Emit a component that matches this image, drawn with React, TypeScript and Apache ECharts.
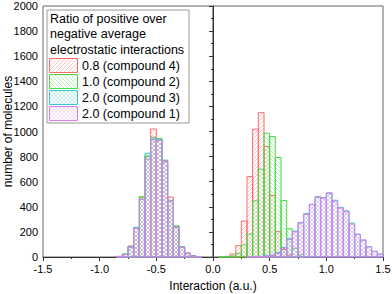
import React, { useEffect, useRef } from "react";
import * as echarts from "echarts";

const binWidth = 0.05;
const binStarts: number[] = [
  -0.9, -0.85, -0.8, -0.75, -0.7, -0.65, -0.6, -0.55, -0.5, -0.45, -0.4, -0.35, -0.3, -0.25, -0.2, -0.15,
  -0.1, -0.05, 0.0, 0.05, 0.1, 0.15, 0.2, 0.25, 0.3, 0.35, 0.4, 0.45, 0.5, 0.55, 0.6, 0.65,
  0.7, 0.75, 0.8, 0.85, 0.9, 0.95, 1.0, 1.05, 1.1, 1.15, 1.2, 1.25, 1.3, 1.35, 1.4, 1.45,
];
// compound 4 (ratio 0.8)
const countsC4: number[] = [
  0, 5, 20, 88, 230, 480, 800, 1020, 930, 765, 478, 245, 80, 32, 8, 2,
  0, 0, 0, 2, 5, 24, 90, 287, 641, 1019, 1150, 880, 490, 202, 60, 15,
  3, 0, 0, 0, 0, 0, 0, 0, 0, 0, 0, 0, 0, 0, 0, 0,
];
// compound 2 (ratio 1.0)
const countsC2: number[] = [
  0, 4, 25, 84, 232, 478, 805, 955, 945, 758, 445, 248, 82, 28, 8, 2,
  0, 0, 0, 1, 3, 8, 30, 96, 183, 447, 700, 987, 960, 793, 450, 225,
  70, 18, 4, 0, 0, 0, 0, 0, 0, 0, 0, 0, 0, 0, 0, 0,
];
// compound 3 (ratio 2.0)
const countsC3: number[] = [
  0, 4, 22, 80, 236, 462, 827, 935, 935, 772, 452, 238, 80, 30, 11, 3,
  0, 0, 0, 0, 0, 0, 0, 0, 2, 3, 6, 10, 16, 36, 76, 145,
  206, 276, 346, 418, 476, 474, 505, 452, 396, 368, 270, 182, 134, 82, 46, 24,
];
// compound 1 (ratio 2.0)
const countsC1: number[] = [
  0, 5, 20, 78, 228, 458, 780, 948, 928, 768, 446, 236, 76, 28, 9, 2,
  0, 0, 0, 0, 0, 0, 0, 0, 1, 2, 4, 7, 12, 30, 70, 140,
  200, 270, 340, 420, 482, 470, 512, 445, 390, 360, 262, 180, 136, 80, 44, 22,
];

const seriesNames = ["0.8 (compound 4)", "1.0 (compound 2)", "2.0 (compound 3)", "2.0 (compound 1)"];
const seriesCounts = [countsC4, countsC2, countsC3, countsC1];
const seriesColors = ["#ff6a6a", "#45dc45", "#35c8c8", "#e07cee"];
const hatchKinds = ["fwd", "back", "cross", "cross"];

const legendTitle = ["Ratio of positive over", "negative average", "electrostatic interactions"];
const yTicks = { min: 0, max: 2000, interval: 200 };
const xTicks = { min: -1.5, max: 1.5, interval: 0.5 };

function makePattern(color: string, kind: string) {
  const s = 4;
  const c = document.createElement("canvas");
  c.width = s;
  c.height = s;
  const ctx = c.getContext("2d")!;
  ctx.strokeStyle = color;
  ctx.lineWidth = 0.8;
  const fwd = () => {
    ctx.beginPath();
    ctx.moveTo(-1, s + 1);
    ctx.lineTo(s + 1, -1);
    ctx.moveTo(-1, 1);
    ctx.lineTo(1, -1);
    ctx.moveTo(s - 1, s + 1);
    ctx.lineTo(s + 1, s - 1);
    ctx.stroke();
  };
  const back = () => {
    ctx.beginPath();
    ctx.moveTo(-1, -1);
    ctx.lineTo(s + 1, s + 1);
    ctx.moveTo(s - 1, -1);
    ctx.lineTo(s + 1, 1);
    ctx.moveTo(-1, s - 1);
    ctx.lineTo(1, s + 1);
    ctx.stroke();
  };
  if (kind === "fwd") {
    ctx.globalAlpha = 0.5;
    fwd();
  } else if (kind === "back") {
    ctx.globalAlpha = 0.5;
    back();
  } else {
    ctx.globalAlpha = 0.35;
    fwd();
    back();
  }
  return { image: c.toDataURL(), repeat: "repeat", imageWidth: s, imageHeight: s };
}

export default function App() {
  const ref = useRef<HTMLDivElement>(null);
  useEffect(() => {
    if (!ref.current) return;
    const chart = echarts.init(ref.current, null, { renderer: "svg" });
    const patterns = seriesColors.map((c, i) => makePattern(c, hatchKinds[i]));
    const font = "Liberation Sans, Arial, sans-serif";

    const series: any[] = seriesCounts.map((counts, si) => ({
      name: seriesNames[si],
      type: "custom",
      data: binStarts
        .map((b, i) => [b, b + binWidth, counts[i]])
        .filter((d) => d[2] > 0),
      encode: { x: [0, 1], y: 2 },
      renderItem: (_p: any, api: any) => {
        const p0 = api.coord([api.value(0), 0]);
        const p1 = api.coord([api.value(1), api.value(2)]);
        return {
          type: "rect",
          shape: { x: p0[0], y: p1[1], width: p1[0] - p0[0], height: p0[1] - p1[1] },
          style: { fill: patterns[si], stroke: seriesColors[si], lineWidth: 1 },
        };
      },
      z: 2 + si,
    }));
    series.push({
      type: "line",
      data: [
        [0, yTicks.min],
        [0, yTicks.max],
      ],
      symbol: "none",
      lineStyle: { color: "#333", width: 1 },
      z: 10,
    });

    const legendX = 47;
    const legendY = 10;
    const graphics: any[] = [
      {
        type: "rect",
        shape: { x: legendX, y: legendY, width: 142, height: 113 },
        style: { fill: "#fff", stroke: "#999", lineWidth: 1 },
        z: 100,
      },
      ...legendTitle.map((t, i) => ({
        type: "text",
        x: 50,
        y: 18.5 + i * 15.5,
        style: { text: t, fontSize: 12.5, fontFamily: font, fill: "#000", verticalAlign: "middle" },
        z: 101,
      })),
      ...seriesNames.flatMap((n, i) => [
        {
          type: "rect",
          shape: { x: 49.5, y: 58.5 + i * 16, width: 28, height: 14 },
          style: { fill: patterns[i], stroke: seriesColors[i], lineWidth: 1 },
          z: 101,
        },
        {
          type: "text",
          x: 82,
          y: 65.5 + i * 16,
          style: { text: n, fontSize: 12.5, fontFamily: font, fill: "#000", verticalAlign: "middle" },
          z: 101,
        },
      ]),
    ];

    chart.setOption({
      animation: false,
      grid: {
        left: 43,
        right: 9,
        top: 6,
        bottom: 37,
        containLabel: false,
        outerBoundsMode: "none",
        show: true,
        borderColor: "#666",
        borderWidth: 1,
      },
      xAxis: {
        type: "value",
        min: xTicks.min,
        max: xTicks.max,
        interval: xTicks.interval,
        name: "Interaction (a.u.)",
        nameLocation: "middle",
        nameGap: 23,
        nameMoveOverlap: false,
        nameTextStyle: { fontSize: 12, fontFamily: font, color: "#000" },
        axisLine: { show: true, onZero: false, lineStyle: { color: "#333" } },
        axisTick: { show: true, length: 4, lineStyle: { color: "#333" } },
        minorTick: { show: true, splitNumber: 2, length: 2, lineStyle: { color: "#333" } },
        splitLine: { show: false },
        axisLabel: {
          fontSize: 11,
          fontFamily: font,
          color: "#000",
          margin: 6,
          formatter: (v: number) => v.toFixed(1),
        },
      },
      yAxis: {
        type: "value",
        min: yTicks.min,
        max: yTicks.max,
        interval: yTicks.interval,
        name: "number of molecules",
        nameLocation: "middle",
        nameGap: 29,
        nameMoveOverlap: false,
        nameTextStyle: { fontSize: 12, fontFamily: font, color: "#000" },
        axisLine: { show: true, lineStyle: { color: "#333" } },
        axisTick: { show: true, length: 4, lineStyle: { color: "#333" } },
        minorTick: { show: true, splitNumber: 2, length: 2, lineStyle: { color: "#333" } },
        splitLine: { show: false },
        axisLabel: {
          fontSize: 11,
          fontFamily: font,
          color: "#000",
          margin: 5,
          formatter: (v: number) => String(v),
        },
      },
      series,
      graphic: graphics,
    });
    return () => chart.dispose();
  }, []);
  return <div ref={ref} style={{ width: 392, height: 294, position: "absolute", left: 0, top: 0 }} />;
}
